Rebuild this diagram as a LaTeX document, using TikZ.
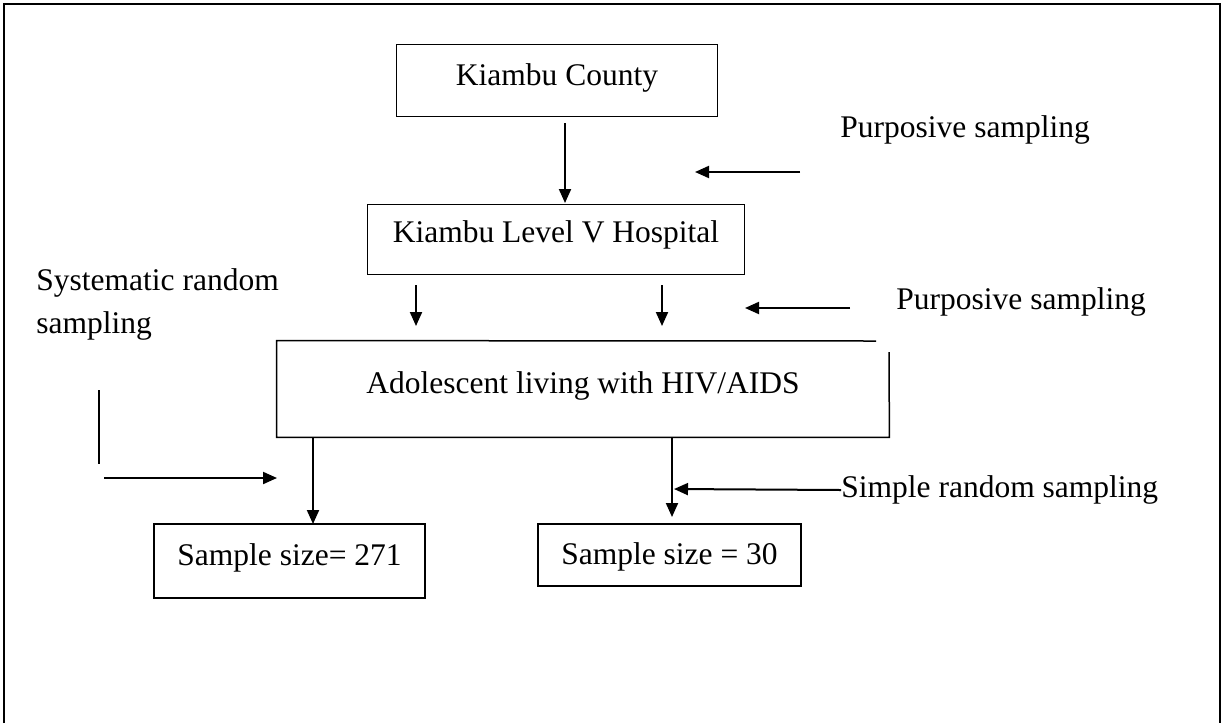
\documentclass[tikz,border=0pt]{standalone}
\usepackage{fontspec}
\setmainfont{Liberation Serif}
\usetikzlibrary{arrows.meta,calc}
\begin{document}
\begin{tikzpicture}[x=0.5pt,y=-0.5pt,
  every node/.style={font=\fontsize{15.75}{21.5}\selectfont},
  boxnode/.style={draw, line width=0.75pt, inner sep=0pt, anchor=center, text height=11pt},
  lbl/.style={anchor=west, inner sep=0pt, align=left},
  arr/.style={line width=1pt, -{Triangle[length=7pt,width=6pt]}},
  ln/.style={line width=0.75pt}]
\useasboundingbox (0,0) rectangle (1224,723);
% outer frame (open at bottom)
\draw[line width=1.3pt] (4,723) -- (4,4) -- (1220,4) -- (1220,723);

% boxes
\node[boxnode, text depth=6.5pt, minimum width=160.5pt, minimum height=36pt] (kc) at (557,80.5) {Kiambu County};
\node[boxnode, text depth=8pt, minimum width=188.5pt, minimum height=35pt] (hosp) at (556,239.5) {Kiambu Level V Hospital};
\node[inner sep=0pt, text height=11pt, text depth=7pt, minimum width=306pt, minimum height=48pt] (ado) at (583,389) {Adolescent living with HIV/AIDS};
\draw[ln] (876,341) -- (ado.north west) -- (ado.south west) -- (ado.south east) -- (889,352);
\node[boxnode, text depth=7pt, minimum width=135.5pt, minimum height=37pt] (s271) at (289.5,561) {Sample size= 271};
\node[boxnode, text depth=2pt, minimum width=131.5pt, minimum height=31pt] (s30) at (669.5,555) {Sample size = 30};

% labels
\node[lbl] (p1) at (840,130) {Purposive sampling};
\node[lbl] (p2) at (896,302) {Purposive sampling};
\node[lbl] (sys) at (36,304) {Systematic random\\sampling};
\node[lbl] (srs) at (841,490) {Simple random sampling};

% coordinates for free arrows
\coordinate (a1s) at (565,123);
\coordinate (a1e) at (565,203);
\coordinate (p1s) at (800,172);
\coordinate (p1e) at (695,172);
\coordinate (h1s) at (416,285);
\coordinate (h1e) at (416,326);
\coordinate (h2s) at (662,285);
\coordinate (h2e) at (662,326);
\coordinate (p2s) at (850,308);
\coordinate (p2e) at (745,308);
\coordinate (vl1) at (99,390);
\coordinate (vl2) at (99,464);
\coordinate (sa1) at (104,478);
\coordinate (sa2) at (277,478);
\coordinate (d1s) at (313,437);
\coordinate (d1e) at (313,524);
\coordinate (d2s) at (672,437);
\coordinate (d2e) at (672,517);
\coordinate (r2) at (674,489);

% connectors
\draw[arr] (a1s) -- (a1e);
\draw[arr] (p1s) -- (p1e);
\draw[arr] (h1s) -- (h1e);
\draw[arr] (h2s) -- (h2e);
\draw[arr] (p2s) -- (p2e);
\draw[ln] (vl1) -- (vl2);
\draw[arr] (sa1) -- (sa2);
\draw[arr] (d1s) -- (d1e);
\draw[arr] (d2s) -- (d2e);
\draw[arr] (srs.west) -- (r2);
\end{tikzpicture}
\end{document}
